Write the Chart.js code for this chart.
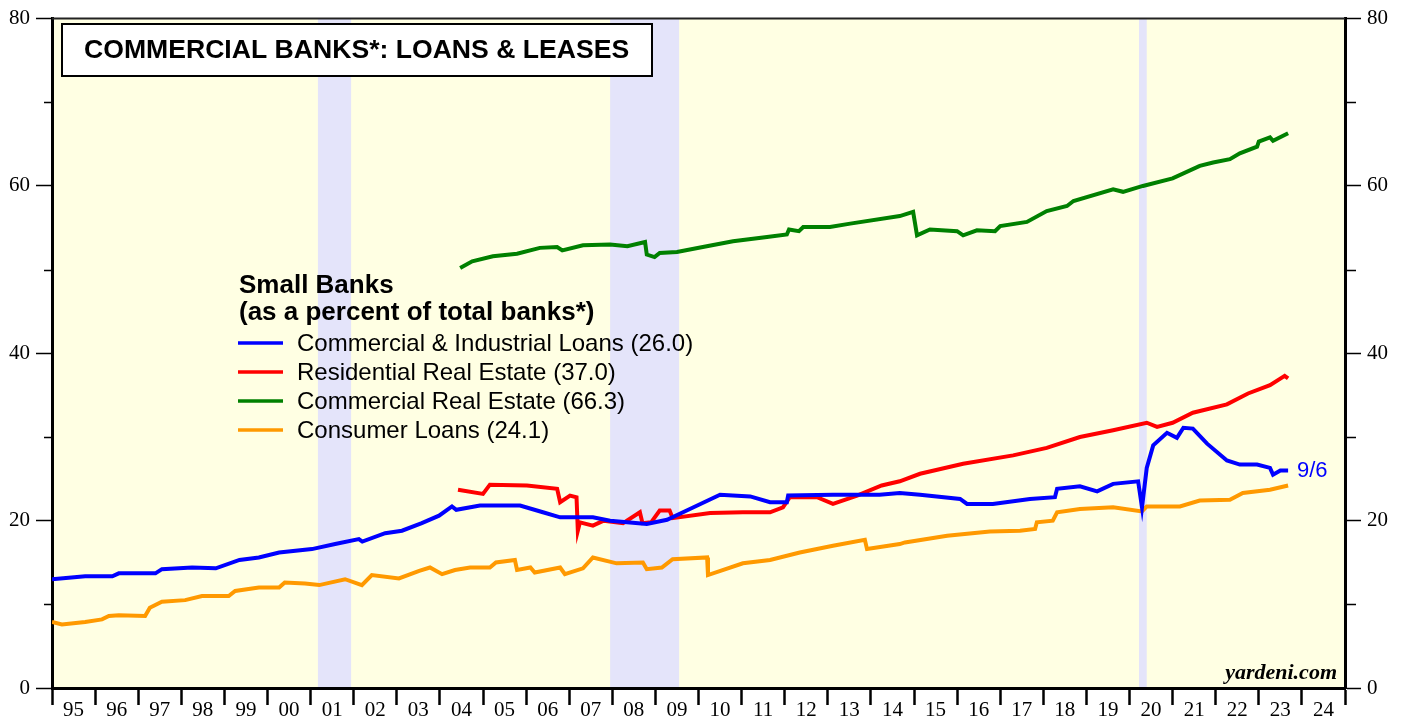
<!DOCTYPE html>
<html>
<head>
<meta charset="utf-8">
<title>Commercial Banks: Loans & Leases</title>
<script src="https://cdn.jsdelivr.net/npm/chart.js@4"></script>
<style>
    body { margin: 0; background: #ffffff; }
    canvas { display: block; }
</style>
</head>
<body>
<canvas id="loans-chart" width="1408" height="719"></canvas>
<script>
// Year labels along the bottom (centred between the year ticks)
const yearLabels = ['95','96','97','98','99','00','01','02','03','04','05','06','07','08','09',
    '10','11','12','13','14','15','16','17','18','19','20','21','22','23','24'];

// Recessions, as decimal years
const recessions = [[2001.17, 2001.94], [2007.95, 2009.55], [2020.22, 2020.40]];

// Commercial & Industrial Loans
const ciDates = [1995.0, 1995.77, 1996.4, 1996.55, 1997.4, 1997.55, 1998.25, 1998.8, 1999.35, 1999.8,
    2000.27, 2001.03, 2001.57, 2002.12, 2002.2, 2002.73, 2003.12, 2003.58, 2003.98, 2004.28,
    2004.38, 2004.93, 2005.86, 2006.39, 2006.79, 2007.55, 2007.95, 2008.8, 2009.27, 2009.8,
    2010.5, 2011.2, 2011.66, 2012.05, 2012.08, 2013.12, 2014.2, 2014.67, 2015.14, 2016.07,
    2016.23, 2016.83, 2017.69, 2018.27, 2018.32, 2018.85, 2019.25, 2019.62, 2020.2, 2020.29,
    2020.4, 2020.55, 2020.87, 2021.1, 2021.25, 2021.47, 2021.8, 2022.26, 2022.56, 2022.96,
    2023.26, 2023.33, 2023.5, 2023.68];
const ciValues = [13.0, 13.35, 13.35, 13.7, 13.7, 14.2, 14.4, 14.3, 15.3, 15.6,
    16.2, 16.6, 17.2, 17.8, 17.5, 18.5, 18.8, 19.7, 20.6, 21.7,
    21.3, 21.8, 21.8, 21.0, 20.4, 20.4, 20.0, 19.6, 20.1, 21.4,
    23.1, 22.9, 22.2, 22.2, 23.0, 23.1, 23.1, 23.3, 23.1, 22.6,
    22.0, 22.0, 22.6, 22.8, 23.8, 24.1, 23.5, 24.4, 24.7, 21.6,
    26.3, 29.0, 30.5, 29.9, 31.1, 31.0, 29.2, 27.2, 26.7, 26.7,
    26.3, 25.5, 26.0, 26.0];

// Residential Real Estate
const rreDates = [2004.42, 2005.0, 2005.16, 2006.02, 2006.72, 2006.79, 2007.02, 2007.17, 2007.2, 2007.25,
    2007.55, 2007.8, 2008.25, 2008.64, 2008.7, 2008.9, 2009.1, 2009.33, 2009.4, 2010.27,
    2011.03, 2011.66, 2011.96, 2012.12, 2012.75, 2013.12, 2013.68, 2014.25, 2014.67, 2015.14,
    2016.14, 2017.3, 2018.08, 2018.85, 2019.62, 2020.4, 2020.64, 2021.0, 2021.47, 2022.26,
    2022.75, 2023.26, 2023.6, 2023.68];
const rreValues = [23.7, 23.2, 24.3, 24.2, 23.8, 22.2, 23.0, 22.8, 18.8, 19.8,
    19.4, 20.0, 19.7, 21.0, 19.7, 19.8, 21.2, 21.2, 20.3, 20.9,
    21.0, 21.0, 21.6, 22.8, 22.8, 22.0, 23.0, 24.2, 24.7, 25.6,
    26.8, 27.8, 28.7, 30.0, 30.8, 31.7, 31.2, 31.7, 32.9, 33.9,
    35.2, 36.2, 37.3, 37.0];

// Commercial Real Estate
const creDates = [2004.47, 2004.75, 2005.23, 2005.79, 2006.32, 2006.72, 2006.84, 2007.32, 2007.95, 2008.35,
    2008.76, 2008.8, 2008.98, 2009.1, 2009.5, 2010.1, 2010.8, 2011.59, 2012.05, 2012.1,
    2012.33, 2012.43, 2013.05, 2013.52, 2014.67, 2014.98, 2015.07, 2015.37, 2016.0, 2016.14,
    2016.46, 2016.88, 2017.0, 2017.62, 2018.08, 2018.55, 2018.7, 2019.62, 2019.85, 2020.31,
    2021.0, 2021.63, 2021.94, 2022.33, 2022.56, 2022.96, 2023.0, 2023.26, 2023.33, 2023.68];
const creValues = [50.2, 51.0, 51.6, 51.9, 52.6, 52.7, 52.3, 52.9, 53.0, 52.8,
    53.3, 51.8, 51.5, 52.0, 52.1, 52.7, 53.4, 53.9, 54.2, 54.8,
    54.6, 55.1, 55.1, 55.5, 56.4, 56.9, 54.1, 54.8, 54.6, 54.1,
    54.7, 54.6, 55.2, 55.7, 57.0, 57.6, 58.2, 59.6, 59.3, 60.0,
    60.9, 62.4, 62.8, 63.2, 63.9, 64.7, 65.3, 65.8, 65.4, 66.3];

// Consumer Loans
const consDates = [1995.0, 1995.23, 1995.77, 1996.16, 1996.32, 1996.55, 1997.16, 1997.27, 1997.55, 1998.09,
    1998.48, 1999.1, 1999.25, 1999.8, 2000.27, 2000.4, 2000.87, 2001.2, 2001.8, 2002.19,
    2002.42, 2003.05, 2003.52, 2003.77, 2004.05, 2004.35, 2004.7, 2005.16, 2005.3, 2005.74,
    2005.79, 2006.1, 2006.2, 2006.79, 2006.9, 2007.32, 2007.55, 2008.1, 2008.71, 2008.8,
    2009.15, 2009.4, 2010.2, 2010.22, 2011.03, 2011.66, 2012.35, 2013.12, 2013.86, 2013.91,
    2014.67, 2014.79, 2015.77, 2016.76, 2017.46, 2017.81, 2017.85, 2018.22, 2018.32, 2018.85,
    2019.62, 2020.29, 2020.4, 2021.17, 2021.63, 2022.33, 2022.63, 2023.26, 2023.68];
const consValues = [7.9, 7.6, 7.9, 8.2, 8.6, 8.7, 8.6, 9.6, 10.3, 10.5,
    11.0, 11.0, 11.6, 12.0, 12.0, 12.6, 12.5, 12.3, 13.0, 12.3,
    13.5, 13.1, 14.0, 14.4, 13.6, 14.1, 14.4, 14.4, 15.0, 15.3,
    14.1, 14.4, 13.8, 14.4, 13.6, 14.3, 15.6, 14.9, 15.0, 14.2,
    14.4, 15.4, 15.6, 13.5, 14.9, 15.3, 16.2, 17.0, 17.7, 16.6,
    17.2, 17.4, 18.2, 18.7, 18.8, 19.0, 19.8, 20.0, 21.0, 21.4,
    21.6, 21.1, 21.7, 21.7, 22.4, 22.5, 23.3, 23.7, 24.2];

const serif = '"Liberation Serif", "Times New Roman", serif';
const sans = '"Liberation Sans", Arial, sans-serif';

function toPoints(dates, values) {
    return dates.map((d, i) => ({ x: d, y: values[i] }));
}

function makeSeries(label, color, dates, values) {
    return {
        label: label,
        data: toPoints(dates, values),
        borderColor: color,
        borderWidth: 4,
        pointRadius: 0,
        fill: false,
        tension: 0
    };
}

// year ticks on the integers, labels on the half years
function buildYearTicks(scale) {
    const ticks = [];
    for (let i = 0; i <= yearLabels.length; i++) {
        ticks.push({ value: 1995 + i });
        if (i < yearLabels.length) ticks.push({ value: 1995 + i + 0.5 });
    }
    scale.ticks = ticks;
}

function yAxis(position, width) {
    return {
        type: 'linear',
        position: position,
        min: 0,
        max: 80,
        afterFit: (scale) => { scale.width = width; },
        ticks: {
            stepSize: 10,
            padding: 6,
            color: '#000',
            font: { family: serif, size: 21 },
            callback: (v) => (v % 20 === 0 ? v : '')
        },
        grid: {
            drawOnChartArea: false,
            tickLength: 16,
            tickWidth: 1.5,
            tickColor: (ctx) => (ctx.tick && ctx.tick.value % 20 === 0 ? '#000' : 'rgba(0,0,0,0)')
        },
        border: { display: true, color: '#000', width: 3 }
    };
}

const decorations = {
    id: 'decorations',
    beforeDraw(chart) {
        const { ctx, chartArea: a, scales: { x } } = chart;
        ctx.save();
        ctx.fillStyle = '#ffffe3';
        ctx.fillRect(a.left, a.top, a.width, a.height);
        ctx.fillStyle = '#e4e4fa';
        recessions.forEach(([start, end]) => {
            const x1 = x.getPixelForValue(start);
            const x2 = x.getPixelForValue(end);
            ctx.fillRect(x1, a.top, x2 - x1, a.height);
        });
        ctx.restore();
    },
    afterDraw(chart) {
        const { ctx, chartArea: a, scales: { y } } = chart;
        ctx.save();

        // top edge of the frame
        ctx.strokeStyle = '#222';
        ctx.lineWidth = 2;
        ctx.beginPath();
        ctx.moveTo(a.left, a.top);
        ctx.lineTo(a.right, a.top);
        ctx.stroke();

        // short minor ticks on both y axes
        ctx.strokeStyle = '#000';
        ctx.lineWidth = 1.5;
        [10, 30, 50, 70].forEach((v) => {
            const py = Math.round(y.getPixelForValue(v)) + 0.5;
            ctx.beginPath();
            ctx.moveTo(a.left - 8, py);
            ctx.lineTo(a.left, py);
            ctx.moveTo(a.right, py);
            ctx.lineTo(a.right + 11, py);
            ctx.stroke();
        });

        // title box
        ctx.fillStyle = '#fff';
        ctx.fillRect(62, 24, 590, 52);
        ctx.strokeStyle = '#000';
        ctx.lineWidth = 2;
        ctx.strokeRect(62, 24, 590, 52);
        ctx.fillStyle = '#000';
        ctx.font = 'bold 26.6px ' + sans;
        ctx.textBaseline = 'alphabetic';
        ctx.textAlign = 'left';
        ctx.fillText('COMMERCIAL BANKS*: LOANS & LEASES', 84, 58);

        // legend
        ctx.font = 'bold 26px ' + sans;
        ctx.fillText('Small Banks', 239, 293);
        ctx.fillText('(as a percent of total banks*)', 239, 320);
        ctx.font = '24px ' + sans;
        ctx.textBaseline = 'middle';
        chart.data.datasets.forEach((ds, i) => {
            const ly = 343 + i * 29;
            ctx.strokeStyle = ds.borderColor;
            ctx.lineWidth = 3.5;
            ctx.beginPath();
            ctx.moveTo(238, ly);
            ctx.lineTo(283, ly);
            ctx.stroke();
            ctx.fillStyle = '#000';
            ctx.fillText(ds.label, 297, ly + 1);
        });

        // date of last reading
        ctx.fillStyle = '#0000ff';
        ctx.font = '22px ' + sans;
        ctx.fillText('9/6', 1297, 471);

        ctx.fillStyle = '#000';
        ctx.font = 'bold italic 22px ' + serif;
        ctx.textAlign = 'right';
        ctx.textBaseline = 'alphabetic';
        ctx.fillText('yardeni.com', 1337, 679);
        ctx.restore();
    }
};

const ctx = document.getElementById('loans-chart').getContext('2d');

const loansChart = new Chart(ctx, {
    type: 'line',
    data: {
        datasets: [
            makeSeries('Commercial & Industrial Loans (26.0)', '#0000ff', ciDates, ciValues),
            makeSeries('Residential Real Estate (37.0)', '#ff0000', rreDates, rreValues),
            makeSeries('Commercial Real Estate (66.3)', '#008000', creDates, creValues),
            makeSeries('Consumer Loans (24.1)', '#ff9900', consDates, consValues)
        ]
    },
    options: {
        responsive: false,
        animation: false,
        layout: { padding: { top: 17, left: 0, right: 0, bottom: 0 } },
        plugins: {
            legend: { display: false },
            tooltip: { enabled: false }
        },
        scales: {
            x: {
                type: 'linear',
                position: 'bottom',
                min: 1995,
                max: 2025,
                afterBuildTicks: buildYearTicks,
                afterFit: (scale) => { scale.height = 31; },
                ticks: {
                    autoSkip: false,
                    maxRotation: 0,
                    padding: -7,
                    color: '#000',
                    font: { family: serif, size: 21 },
                    callback: (v) => (Number.isInteger(v) ? '' : yearLabels[Math.floor(v) - 1995])
                },
                grid: {
                    drawOnChartArea: false,
                    tickLength: 17,
                    tickWidth: 2.5,
                    tickColor: (c) => (c.tick && Number.isInteger(c.tick.value) ? '#000' : 'rgba(0,0,0,0)')
                },
                border: { display: true, color: '#000', width: 3 }
            },
            y: yAxis('left', 52),
            y2: yAxis('right', 63)
        }
    },
    plugins: [decorations]
});
</script>
</body>
</html>
